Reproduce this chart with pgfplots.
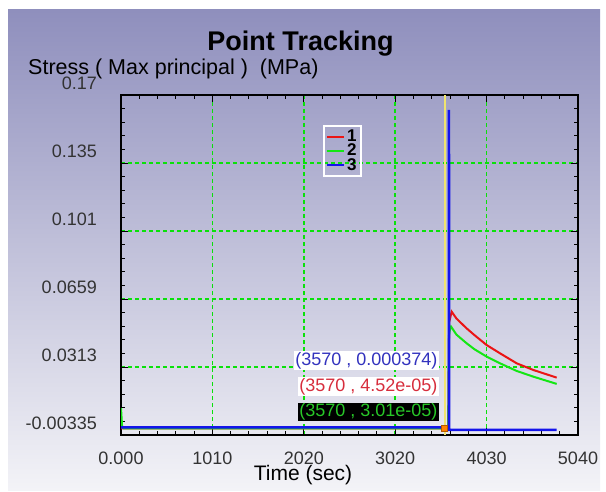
\documentclass[border=0pt]{standalone}
\usepackage{pgfplots}
\pgfplotsset{compat=1.18}
\usepackage{fontspec}
\setmainfont{Liberation Sans}
\definecolor{bgtop}{RGB}{143,143,189}
\definecolor{bgbot}{RGB}{243,243,247}
\definecolor{gridgreen}{RGB}{10,225,10}
\definecolor{cred}{RGB}{235,20,20}
\definecolor{cgreen}{RGB}{20,230,20}
\definecolor{cblue}{RGB}{20,20,235}
\definecolor{cyellow}{RGB}{240,228,110}
\definecolor{tblue}{RGB}{50,50,190}
\definecolor{tred}{RGB}{215,45,60}
\definecolor{tgreen}{RGB}{40,200,40}
\begin{document}
\begin{tikzpicture}[x=1pt,y=1pt]
\path[use as bounding box] (0,0) rectangle (606,491);
\shade[top color=bgtop, bottom color=bgbot] (8,1) rectangle (600,481);
\node[anchor=base, font=\fontsize{27}{27}\selectfont\bfseries] at (300.5,440) {Point Tracking};
\node[anchor=base west, inner sep=0pt, font=\fontsize{21.5}{21.5}\selectfont] at (28,416) {Stress ( Max principal ) \ (MPa)};
\node[anchor=base, inner sep=0pt, font=\fontsize{21}{21}\selectfont] at (303,11) {Time (sec)};
\begin{axis}[
  at={(121pt,56pt)}, anchor=south west,
  scale only axis, width=457pt, height=340pt,
  xmin=0, xmax=5040, ymin=-0.00335, ymax=0.17,
  xtick={0,1008,2016,3024,4032,5040},
  xticklabels={0.000,1010,2020,3020,4030,5040},
  ytick={-0.00335,0.03132,0.06599,0.10066,0.13533,0.17},
  yticklabels={-0.00335,0.0313,0.0659,0.101,0.135,0.17},
  minor x tick num=4, minor y tick num=4,
  tick align=inside,
  major tick length=7pt, minor tick length=4pt,
  tick style={draw=black, line width=1pt},
  axis line style={black, line width=2pt},
  xmajorgrids, ymajorgrids,
  grid style={draw=gridgreen, dash pattern=on 4pt off 3pt, line width=1.6pt},
  major grid style={draw=gridgreen, dash pattern=on 4pt off 3pt, line width=1.6pt},
  ticklabel style={font=\fontsize{18}{18}\selectfont, text=black!80},
  yticklabel style={anchor=south east, inner sep=0pt, xshift=-24pt, yshift=5pt},
  xticklabel style={anchor=north, inner sep=0pt, yshift=-17pt},
  legend style={at={(0.442,0.912)}, anchor=north west, draw=white, line width=2pt, fill=none,
    font=\fontsize{17}{17}\selectfont\bfseries, inner sep=2pt, row sep=-3pt},
  legend cell align=left,
  legend image post style={line width=2pt},
]
\addplot[cyellow, line width=2pt, forget plot] coordinates {(3570,-0.00335) (3570,0.17)};
\addplot[cred, line width=2pt] coordinates {
(0,0.004) (12,0.0) (3610,0.0) (3617,0.045) (3620,0.0544) (3647,0.0595) (3700,0.0560)
(3812,0.0510) (3900,0.0475) (4033,0.0425) (4180,0.0383) (4364,0.0332) (4547,0.0298) (4805,0.0259)};
\addlegendentry{1}
\addplot[cgreen, line width=2pt] coordinates {
(0,0.0104) (12,0.001) (30,0.0) (3610,0.0) (3617,0.0476) (3628,0.0505) (3640,0.0519) (3700,0.0478)
(3812,0.0434) (3900,0.0403) (4033,0.0366) (4180,0.0332) (4364,0.0293) (4547,0.0264) (4805,0.0227)};
\addlegendentry{2}
\addplot[cblue, line width=2.5pt] coordinates {
(0,0.0006) (3617,0.0006) (3617,0.1624) (3619,-0.0008) (4805,-0.0008)};
\addlegendentry{3}
\addplot[only marks, mark=square*, mark size=3pt, mark options={fill=orange, draw=orange!70!black, line width=0.6pt}, forget plot] coordinates {(3570,0.0001)};
\node[anchor=east, fill=white, text=tblue, inner sep=1pt, xshift=-6pt, font=\fontsize{18}{18}\selectfont] at (axis cs:3570,0.0346) {(3570 , 0.000374)};
\node[anchor=east, fill=white, text=tred, inner sep=1pt, xshift=-6pt, font=\fontsize{18}{18}\selectfont] at (axis cs:3570,0.0214) {(3570 , 4.52e-05)};
\node[anchor=east, fill=black, text=tgreen, inner sep=1pt, xshift=-6pt, font=\fontsize{18}{18}\selectfont] at (axis cs:3570,0.0084) {(3570 , 3.01e-05)};
\end{axis}
\end{tikzpicture}
\end{document}
